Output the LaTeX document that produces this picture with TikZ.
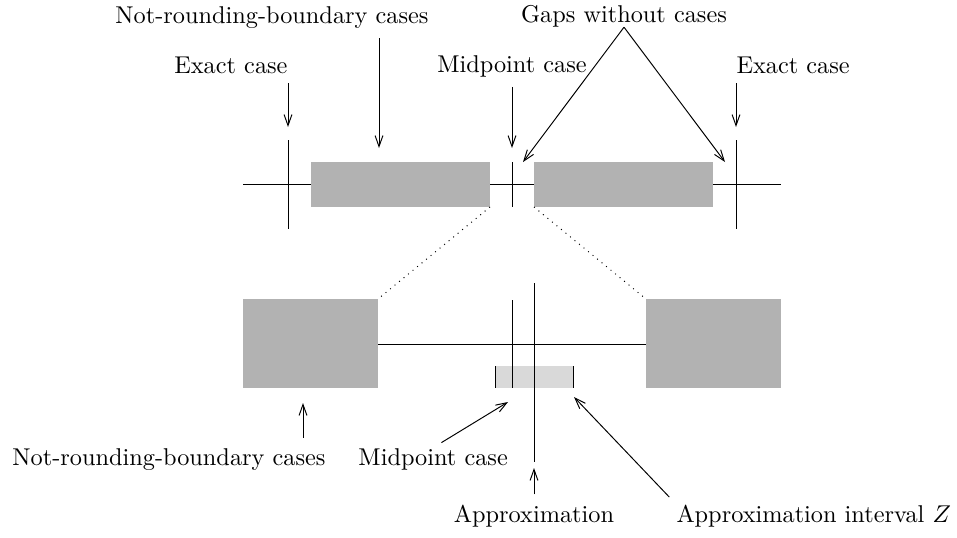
\documentclass[tikz,border=0pt]{standalone}
\usepackage{amsmath,amssymb}
\usepackage{tikz}
\usetikzlibrary{calc}
\usetikzlibrary{positioning}
\usetikzlibrary{arrows.meta}

\begin{document}
\begin{tikzpicture}[>={Straight Barb[length=4.5pt,width=3.2pt]},x=0.4115pt,y=-0.4115pt,
    lab/.style={inner sep=0pt},
    ptr/.style={->,shorten <=4pt},
    box/.style={fill=gray!60},
    zbox/.style={fill=gray!30}]
  \useasboundingbox (0,0) rectangle (957,537);

  % upper scale
  \coordinate (uw) at (243,184);
  \coordinate (ue) at (781,184);
  \coordinate (ua1) at (311,162);
  \coordinate (ua2) at (490,207);
  \coordinate (ub1) at (534,162);
  \coordinate (ub2) at (713,207);
  \draw (uw) -- (ue);
  \fill[box] (ua1) rectangle (ua2);
  \fill[box] (ub1) rectangle (ub2);
  \draw (288,140) -- (288,229);
  \draw (736,140) -- (736,229);
  \draw (512,162) -- (512,207);

  % lower scale
  \coordinate (la1) at (243,299);
  \coordinate (la2) at (378,388);
  \coordinate (lb1) at (646,299);
  \coordinate (lb2) at (781,388);
  \fill[box] (la1) rectangle (la2);
  \fill[box] (lb1) rectangle (lb2);
  \draw (la2 |- 0,344) -- (lb1 |- 0,344);
  \fill[zbox] (495,366) rectangle (573,388);
  \draw (495,366) -- (495,388);
  \draw (573,366) -- (573,388);
  \draw (512,300) -- (512,388);
  \draw (534,283) -- (534,462);

  % zoom lines
  \draw[dotted] (ua2) -- (la2 |- la1);
  \draw[dotted] (ub1 |- ua2) -- (lb1);

  % arrow ends
  \coordinate (exlt) at (288,127);
  \coordinate (nrt) at (379,148);
  \coordinate (midt) at (512,148);
  \coordinate (gapl) at (523,162);
  \coordinate (gapr) at (725,162);
  \coordinate (exrt) at (736,127);
  \coordinate (nrb) at (303,403);
  \coordinate (midb) at (508,402);
  \coordinate (aprt) at (534,468);
  \coordinate (intzt) at (574,397);

  % labels
  \node[lab,anchor=base west] (nrtop) at (115,23) {Not-rounding-boundary cases};
  \node[lab,anchor=base] (gaps) at (624,22) {Gaps without cases};
  \node[lab,anchor=base east] (exl) at (288,73) {Exact case};
  \node[lab,anchor=base] (midtop) at (512,72) {Midpoint case};
  \node[lab,anchor=base west] (exr) at (736,73) {Exact case};
  \node[lab,anchor=base west] (nrbot) at (12,465) {Not-rounding-boundary cases};
  \node[lab,anchor=base west] (midbot) at (358,465) {Midpoint case};
  \node[lab,anchor=base] (appr) at (534,522) {Approximation};
  \node[lab,anchor=base west] (intz) at (676,522) {Approximation interval $Z$};

  % arrows
  \draw[ptr] (exl.south -| exlt) -- (exlt);
  \draw[ptr] (nrtop.south -| nrt) -- (nrt);
  \draw[ptr] (midtop.south) -- (midt);
  \draw[->] (gaps.south) -- (gapl);
  \draw[->] (gaps.south) -- (gapr);
  \draw[ptr] (exr.south -| exrt) -- (exrt);
  \draw[ptr] (nrbot.north -| nrb) -- (nrb);
  \draw[ptr] (midbot.north) -- (midb);
  \draw[ptr] (appr.north) -- (aprt);
  \draw[ptr] (intz.north west) -- (intzt);
\end{tikzpicture}
\end{document}
